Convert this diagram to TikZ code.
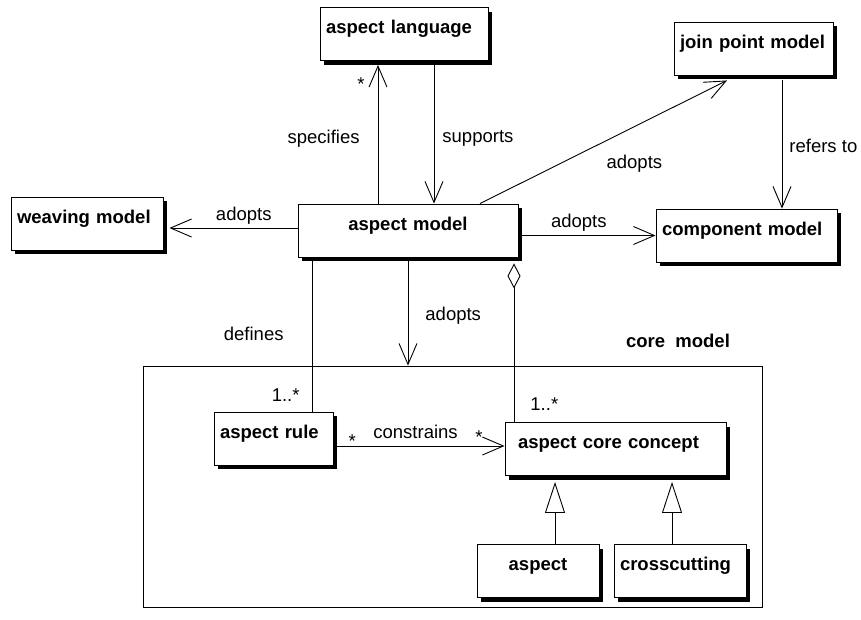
\documentclass[tikz,border=0pt]{standalone}
\usepackage{fontspec}
\setmainfont{Liberation Sans}
\usetikzlibrary{arrows.meta,shadows}

\begin{document}
\begin{tikzpicture}[x=1pt, y=-1pt,
		every node/.style={font=\fontsize{18.5}{22}\selectfont},
		cls/.style={draw, fill=white, line width=0.9pt,
			font=\fontsize{18.5}{22}\selectfont\bfseries,
			text width=#1, align=left, inner xsep=6pt, inner ysep=12pt,
			text height=14pt, text depth=15pt,
			drop shadow={shadow xshift=4pt, shadow yshift=-4pt, fill=black, opacity=1}},
		lbl/.style={inner sep=0pt},
		link/.style={line width=0.9pt},
		assoc/.style={link, -{Straight Barb[length=21pt, width=18pt]}},
		gen/.style={link, -{Triangle[open, length=31pt, width=20pt]}},
		aggr/.style={link, {Diamond[open, length=25pt, width=13pt]}-}]
	\useasboundingbox (0,0) rectangle (861,619);
	\node[draw, line width=0.9pt, inner sep=0pt, minimum width=619pt, minimum height=241pt] (core) at (452.5,486.5) {};
	\node[anchor=base east, font=\fontsize{18.5}{22}\selectfont\bfseries] (corelbl) at ([xshift=-29pt, yshift=18pt]core.north east) {core\ \ model};

	\node[cls=156pt] (lang) at (404,34) {aspect language};
	\node[cls=147pt] (jpm) at (753.5,48.5) {join point model};
	\node[cls=140pt] (weave) at (87,223.5) {weaving model};
	\node[cls=208pt, align=center] (am) at (408,230.5) {aspect model};
	\node[cls=169pt] (comp) at (746.5,235.5) {component model};
	\node[cls=107pt] (rule) at (273.5,438.5) {aspect rule};
	\node[cls=195pt, inner xsep=13pt] (acc) at (615.5,449) {aspect core concept};
	\node[cls=110pt, align=center] (asp) at (538,571) {aspect};
	\node[cls=120pt] (cross) at (680,571) {crosscutting};

	\draw[assoc] ([xshift=-30pt]am.north) --
		node[lbl, pos=0.47, left=18pt] (lspec) {specifies}
		node[lbl, pos=0.865, left=13pt] (mspec) {*}
		([xshift=-26pt, yshift=-4pt]lang.south);
	\draw[assoc] ([xshift=30pt, yshift=-4pt]lang.south) --
		node[lbl, pos=0.53, right=8pt] (lsupp) {supports}
		([xshift=26pt]am.north);
	\draw[assoc] ([xshift=72pt]am.north) --
		node[lbl, pos=0.625, anchor=base, yshift=-41.5pt] (ljpm) {adopts}
		([xshift=-26.5pt, yshift=-5pt]jpm.south);
	\draw[assoc] ([xshift=28.5pt, yshift=-5pt]jpm.south) --
		node[lbl, pos=0.51, right=7pt] (lref) {refers to}
		([xshift=35.5pt]comp.north);
	\draw[assoc] ([yshift=2.5pt]am.west) --
		node[lbl, pos=0.42, anchor=base, yshift=8pt] (lweave) {adopts}
		([xshift=6pt, yshift=-4.5pt]weave.east);
	\draw[assoc] ([yshift=-5pt]am.east) --
		node[lbl, pos=0.44, anchor=base, yshift=8.5pt] (lcomp) {adopts}
		(comp.west);
	\draw[assoc] ([yshift=-4pt]am.south) --
		node[lbl, pos=0.52, right=17pt] (lcore) {adopts}
		(am.south |- core.north);
	\draw[link] ([xshift=-96pt, yshift=-4pt]am.south) --
		node[lbl, pos=0.48, left=28pt] (ldef) {defines}
		node[lbl, pos=0.89, left=12pt] (mdef) {1..*}
		([xshift=38.5pt]rule.north);
	\draw[aggr] ([xshift=106pt, yshift=-6pt]am.south) --
		node[lbl, pos=0.89, right=16pt] (magg) {1..*}
		([xshift=-101.5pt]acc.north);
	\draw[assoc] ([yshift=-7.5pt]rule.east) --
		node[lbl, pos=0.11, anchor=base, yshift=-1.4pt] (mrule) {*}
		node[lbl, pos=0.48, anchor=base, yshift=8pt] (lcons) {constrains}
		node[lbl, pos=0.85, anchor=base, yshift=2.6pt] (macc) {*}
		([yshift=3pt]acc.west);
	\draw[gen] ([xshift=17pt]asp.north) -- ([xshift=-60.5pt, yshift=-6pt]acc.south);
	\draw[gen] ([xshift=-8pt]cross.north) -- ([xshift=56.5pt, yshift=-6pt]acc.south);
\end{tikzpicture}
\end{document}
